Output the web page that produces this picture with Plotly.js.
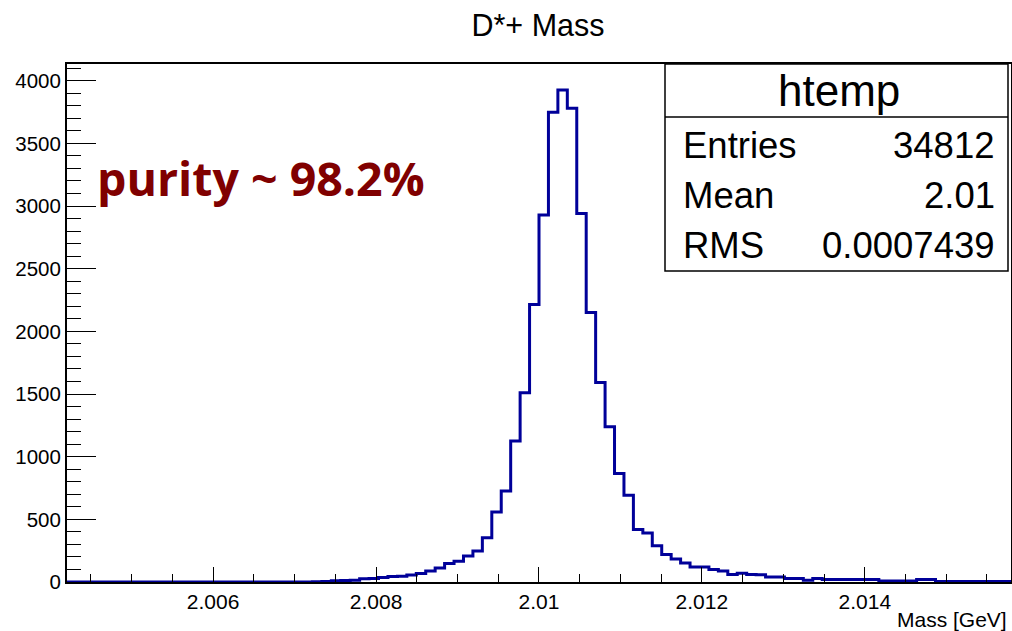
<!DOCTYPE html>
<html>
<head>
<meta charset="utf-8">
<script src="https://cdn.plot.ly/plotly-3.0.1.min.js"></script>
<style>
html,body{margin:0;padding:0;background:#fff;}
#chart{width:1012px;height:631px;}
</style>
</head>
<body>
<div id="chart"></div>
<script>
// ---- data (100 bins) ----
const xMin = 2.004206;
const xMax = 2.015795;
const nBins = 100;
const binCounts = [
  0,0,0,0,0,0,0,0,0,0,
  0,0,0,0,0,0,0,0,0,0,
  0,0,0,0,0,0,2,4,10,12,
  14,25,28,35,44,46,55,67,88,112,
  147,165,208,248,354,559,727,1125,1509,2215,
  2928,3748,3926,3780,2941,2151,1592,1238,865,692,
  418,391,290,219,184,152,120,120,100,88,
  60,70,60,58,40,40,27,27,14,27,
  19,19,19,19,19,19,8,8,8,8,
  19,19,3,3,3,3,3,3,3,3
];
const xTickVals = [2.006, 2.008, 2.010, 2.012, 2.014];
const xTickText = ["2.006", "2.008", "2.01", "2.012", "2.014"];
const yTickVals = [0, 500, 1000, 1500, 2000, 2500, 3000, 3500, 4000];
const yTickText = ["0", "500", "1000", "1500", "2000", "2500", "3000", "3500", "4000"];
const statsTitle = "htemp";
const statsLabels = ["Entries", "Mean", "RMS"];
const statsValues = ["34812", "2.01", "0.0007439"];
const chartTitle = "D*+ Mass";
const xTitle = "Mass [GeV]";
const purityText = "purity ~ 98.2%";
const yMax = 4133;

// ---- build step outline from bin edges ----
const binW = (xMax - xMin) / nBins;
const edgesX = [];
const stepY = [];
for (let i = 0; i <= nBins; i++) {
  edgesX.push(xMin + i * binW);
  stepY.push(binCounts[Math.min(i, nBins - 1)]);
}

// plot area in pixels
const W = 1012, H = 631;
const L = 67, R = 1011, T = 64, B = 582;
const px = x => (x - L) / (R - L);
const py = y => (B - y) / (B - T);

const FONT = "Liberation Sans, Arial, Helvetica, sans-serif";

const trace = {
  type: "scatter",
  mode: "lines",
  x: edgesX,
  y: stepY,
  line: {shape: "hv", color: "#000099", width: 3},
  hoverinfo: "x+y",
  showlegend: false
};

const annotations = [
  {text: statsTitle, x: px(839), y: py(90), xref: "paper", yref: "paper",
   xanchor: "center", yanchor: "middle", showarrow: false,
   font: {family: FONT, size: 44, color: "#000"}},
  {text: xTitle, x: px(1009), y: py(619), xref: "paper", yref: "paper",
   xanchor: "right", yanchor: "middle", showarrow: false,
   font: {family: FONT, size: 21, color: "#000"}},
  {text: "<b>" + purityText + "</b>", x: px(95), y: py(178), xref: "paper", yref: "paper",
   xanchor: "left", yanchor: "middle", showarrow: false,
   font: {family: "Open Sans, DejaVu Sans, sans-serif", size: 46.5, color: "#800000"}}
];
const rowY = [145, 195, 246];
for (let i = 0; i < statsLabels.length; i++) {
  annotations.push({text: statsLabels[i], x: px(681), y: py(rowY[i]), xref: "paper", yref: "paper",
    xanchor: "left", yanchor: "middle", showarrow: false,
    font: {family: FONT, size: 36.5, color: "#000"}});
  annotations.push({text: statsValues[i], x: px(997), y: py(rowY[i]), xref: "paper", yref: "paper",
    xanchor: "right", yanchor: "middle", showarrow: false,
    font: {family: FONT, size: 36.5, color: "#000"}});
}

const layout = {
  width: W, height: H,
  margin: {l: L, r: W - R, t: T, b: H - B, pad: 0},
  paper_bgcolor: "#fff",
  plot_bgcolor: "#fff",
  title: {text: chartTitle, x: 538 / W, xanchor: "center", xref: "container",
          y: 1 - 25 / H, yanchor: "middle", yref: "container",
          font: {family: FONT, size: 30.5, color: "#000"}},
  xaxis: {
    range: [xMin, xMax], showgrid: false, zeroline: false,
    showline: true, mirror: true, linecolor: "#000", linewidth: 2,
    ticks: "inside", ticklen: 15, tickwidth: 1, tickcolor: "#000",
    tickvals: xTickVals, ticktext: xTickText,
    tickfont: {family: FONT, size: 21, color: "#000"},
    minor: {ticks: "inside", ticklen: 8, tickwidth: 1, tickcolor: "#000", dtick: 0.0005, tick0: 2.006, showgrid: false}
  },
  yaxis: {
    range: [0, yMax], showgrid: false, zeroline: false,
    showline: true, mirror: true, linecolor: "#000", linewidth: 2,
    ticks: "inside", ticklen: 29, tickwidth: 1, tickcolor: "#000",
    tickvals: yTickVals, ticktext: yTickText,
    tickfont: {family: FONT, size: 20.5, color: "#000"},
    minor: {ticks: "inside", ticklen: 14, tickwidth: 1, tickcolor: "#000", dtick: 100, tick0: 0, showgrid: false}
  },
  shapes: [
    {type: "rect", xref: "paper", yref: "paper", x0: px(665), x1: px(1008), y0: py(271), y1: py(64),
     line: {color: "#000", width: 1.5}, fillcolor: "#fff", layer: "above"},
    {type: "line", xref: "paper", yref: "paper", x0: px(665), x1: px(1008), y0: py(117), y1: py(117),
     line: {color: "#000", width: 1.5}, layer: "above"}
  ],
  annotations: annotations
};

Plotly.newPlot("chart", [trace], layout, {staticPlot: true, displayModeBar: false});
</script>
</body>
</html>
